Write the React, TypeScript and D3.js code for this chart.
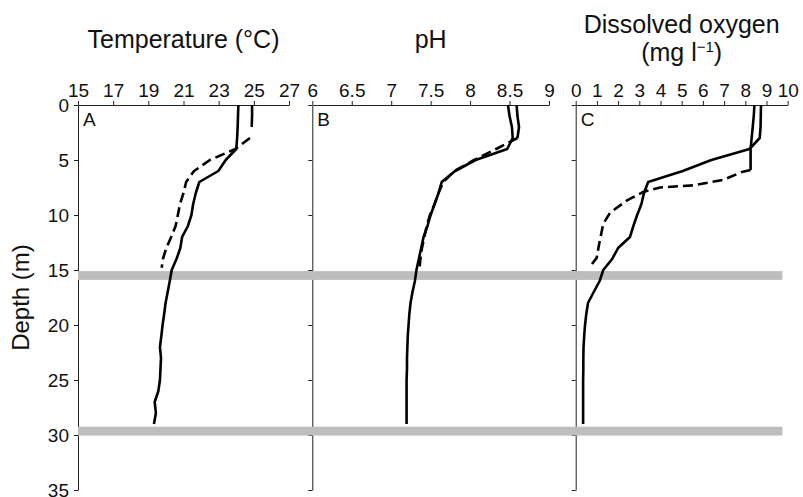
import { useEffect, useRef } from 'react'
import * as d3 from 'd3'

// axis ticks
const depthTicks = [0, 5, 10, 15, 20, 25, 30, 35]
const tempTicks = [15, 17, 19, 21, 23, 25, 27]
const phTicks = [6, 6.5, 7, 7.5, 8, 8.5, 9]
const doTicks = [0, 1, 2, 3, 4, 5, 6, 7, 8, 9, 10]

// deep profile (solid line), 0-29 m
const deepDepth = [0, 1, 2, 3, 4, 5, 6, 7, 8, 9, 10, 11, 12, 13, 14, 15, 16, 17, 18, 19, 20, 21, 22, 23, 24, 25, 26, 27, 28, 29]
const tempSolid = [24.12, 24.1, 24.08, 24.05, 24.0, 23.4, 22.98, 21.9, 21.7, 21.55, 21.45, 21.25, 20.92, 20.82, 20.6, 20.33, 20.22, 20.1, 19.98, 19.9, 19.81, 19.74, 19.66, 19.72, 19.69, 19.66, 19.57, 19.36, 19.43, 19.32]
const phSolid = [8.48, 8.5, 8.53, 8.54, 8.47, 8.07, 7.81, 7.64, 7.6, 7.55, 7.5, 7.46, 7.41, 7.38, 7.35, 7.32, 7.3, 7.27, 7.245, 7.23, 7.22, 7.21, 7.205, 7.2, 7.2, 7.195, 7.195, 7.195, 7.195, 7.195]
const doSolid = [8.74, 8.73, 8.72, 8.68, 8.2, 6.4, 5.05, 3.42, 3.22, 3.1, 2.9, 2.72, 2.56, 2.0, 1.72, 1.3, 1.13, 0.85, 0.58, 0.5, 0.44, 0.4, 0.37, 0.36, 0.36, 0.35, 0.35, 0.35, 0.35, 0.35]

// shallow profile (dashed line)
const shallowDepth = [0, 1, 2, 3, 4, 5, 6, 7, 8, 9, 10, 11, 12, 13, 14, 14.8]
const tempDashed = [24.9, 24.9, 24.88, 24.78, 23.95, 22.5, 21.6, 21.15, 21.0, 20.8, 20.68, 20.55, 20.3, 20.02, 19.83, 19.76]
const phDashed = [8.59, 8.6, 8.62, 8.6, 8.33, 8.05, 7.8, 7.66, 7.6, 7.55, 7.49, 7.45, 7.42, 7.39, 7.37, 7.36]
const doDashedDepth = [0, 1, 2, 3, 4, 5, 5.9, 6.1, 6.8, 7.3, 7.5, 7.9, 8.7, 9.8, 10.8, 12.6, 13.9, 14.5]
const doDashed = [8.43, 8.4, 8.35, 8.3, 8.25, 8.25, 8.25, 7.83, 6.96, 5.55, 3.98, 3.19, 2.4, 1.62, 1.3, 1.11, 0.99, 0.75]

// grey horizontal bands (depth, m)
const bandDepths = [15.5, 29.65]
const bandThickness = 0.8

const FONT = '"Liberation Sans", Arial, Helvetica, sans-serif'

const zip = (d: number[], v: number[]) => d.map((dd, i) => ({ depth: dd, v: v[i] }))

export default function App() {
  const ref = useRef<SVGSVGElement>(null)

  useEffect(() => {
    if (!ref.current) return
    const svg = d3.select(ref.current)
    svg.selectAll('*').remove()

    const y = d3.scaleLinear().domain([0, 35]).range([105, 490])

    const panels = [
      {
        tag: 'A', title: ['Temperature (°C)'], ticks: tempTicks, showY: true,
        x: d3.scaleLinear().domain([15, 27]).range([78, 289]),
        solid: zip(deepDepth, tempSolid), dashed: zip(shallowDepth, tempDashed), solidTo: 2.9,
      },
      {
        tag: 'B', title: ['pH'], ticks: phTicks, showY: false,
        x: d3.scaleLinear().domain([6, 9]).range([312.3, 549]),
        solid: zip(deepDepth, phSolid), dashed: zip(shallowDepth, phDashed), solidTo: 3,
      },
      {
        tag: 'C', title: ['Dissolved oxygen', '(mg l'], ticks: doTicks, showY: false,
        x: d3.scaleLinear().domain([0, 10]).range([575.7, 787.7]),
        solid: zip(deepDepth, doSolid), dashed: zip(doDashedDepth, doDashed), solidTo: 5.9,
      },
    ]

    const styleAxis = (s: any) => {
      s.select('.domain').attr('stroke', '#222').attr('stroke-width', 1)
      s.selectAll('.tick line').attr('stroke', '#222')
      s.selectAll('.tick text').attr('fill', '#111').attr('font-size', '19px').attr('font-family', FONT)
    }

    panels.forEach((p) => {
      svg.append('g')
        .attr('transform', `translate(0,${y(0)})`)
        .call(d3.axisTop(p.x).tickValues(p.ticks).tickSize(4).tickSizeOuter(0).tickPadding(4).tickFormat((d: any) => String(d)))
        .call(styleAxis)
      svg.append('g')
        .attr('transform', `translate(${p.x.range()[0]},0)`)
        .call(d3.axisLeft(y).tickValues(depthTicks).tickSize(4).tickSizeOuter(0).tickPadding(5)
          .tickFormat((d: any) => (p.showY ? String(d) : '')))
        .call(styleAxis)

      const cx = (p.x.range()[0] + p.x.range()[1]) / 2
      if (p.title.length === 1) {
        svg.append('text').attr('x', cx).attr('y', 48).attr('text-anchor', 'middle')
          .attr('font-family', FONT).attr('font-size', '25px').attr('fill', '#111').text(p.title[0])
      } else {
        svg.append('text').attr('x', cx).attr('y', 33).attr('text-anchor', 'middle')
          .attr('font-family', FONT).attr('font-size', '25px').attr('fill', '#111').text(p.title[0])
        const t2 = svg.append('text').attr('x', cx).attr('y', 61).attr('text-anchor', 'middle')
          .attr('font-family', FONT).attr('font-size', '25px').attr('fill', '#111')
        t2.append('tspan').text(p.title[1])
        t2.append('tspan').attr('dy', -9).attr('font-size', '15px').text('\u22121')
        t2.append('tspan').attr('dy', 9).text(')')
      }

      svg.append('text').attr('x', p.x.range()[0] + 5).attr('y', 126)
        .attr('font-family', FONT).attr('font-size', '19px').attr('fill', '#111').text(p.tag)
    })

    // grey bands across all panels
    const bandLeft = panels[0].x.range()[0]
    const bandRight = panels[2].x(9.75)
    svg.append('g').selectAll('rect')
      .data(bandDepths)
      .join('rect')
      .attr('x', bandLeft)
      .attr('width', bandRight - bandLeft)
      .attr('y', (d) => y(d - bandThickness / 2))
      .attr('height', y(bandThickness) - y(0))
      .attr('fill', '#bdbdbd')

    panels.forEach((p) => {
      const line = d3.line<{ depth: number; v: number }>().x((d) => p.x(d.v)).y((d) => y(d.depth))
      const draw = (data: { depth: number; v: number }[], dash: string | null) => {
        svg.append('path').attr('d', line(data))
          .attr('fill', 'none').attr('stroke', '#000').attr('stroke-width', 2.6)
          .attr('stroke-linejoin', 'round').attr('stroke-linecap', 'butt')
          .attr('stroke-dasharray', dash)
      }
      draw(p.solid, null)
      draw(p.dashed.filter((d) => d.depth <= p.solidTo), null)
      draw(p.dashed.filter((d) => d.depth >= p.solidTo), '10,5')
    })

    svg.append('text')
      .attr('transform', `translate(29,${(y(0) + y(35)) / 2}) rotate(-90)`)
      .attr('text-anchor', 'middle')
      .attr('font-family', FONT).attr('font-size', '24px').attr('fill', '#111')
      .text('Depth (m)')
  }, [])

  return (
    <div style={{ position: 'absolute', left: 0, top: 0, width: 803, height: 497, background: '#fff' }}>
      <svg ref={ref} width={803} height={497} style={{ display: 'block' }} />
    </div>
  )
}
